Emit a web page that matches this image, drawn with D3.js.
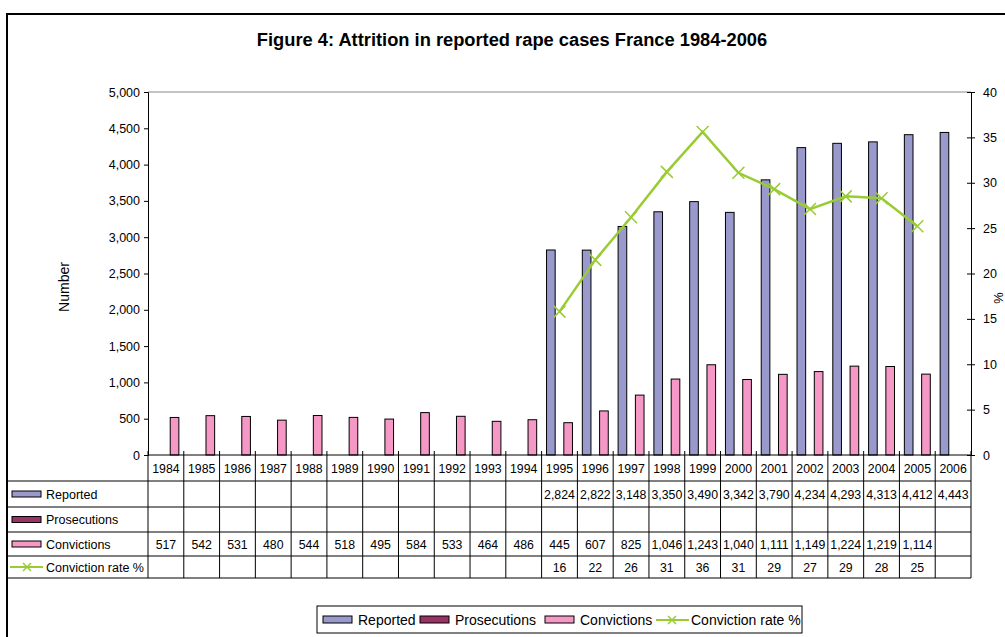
<!DOCTYPE html>
<html>
<head>
<meta charset="utf-8">
<script src="https://cdn.jsdelivr.net/npm/d3@7"></script>
<style>
  body { margin: 0; background: #fff; }
  text { font-family: Arial, "Liberation Sans", sans-serif; fill: #000; }
</style>
</head>
<body>
<div id="chart-area"></div>
<script>
let years = ["1984","1985","1986","1987","1988","1989","1990","1991","1992","1993","1994",
             "1995","1996","1997","1998","1999","2000","2001","2002","2003","2004","2005","2006"]
let reported = [null,null,null,null,null,null,null,null,null,null,null,
                2824,2822,3148,3350,3490,3342,3790,4234,4293,4313,4412,4443]
let prosecutions = [null,null,null,null,null,null,null,null,null,null,null,
                    null,null,null,null,null,null,null,null,null,null,null,null]
let convictions = [517,542,531,480,544,518,495,584,533,464,486,
                   445,607,825,1046,1243,1040,1111,1149,1224,1219,1114,null]
// plotted rate (unrounded) and the rounded figures shown in the table
let rate = [null,null,null,null,null,null,null,null,null,null,null,
            15.8,21.5,26.2,31.2,35.6,31.1,29.3,27.1,28.5,28.3,25.2,null]
let rateLabels = ["","","","","","","","","","","",
                  "16","22","26","31","36","31","29","27","29","28","25",""]
let leftTicks = [0,500,1000,1500,2000,2500,3000,3500,4000,4500,5000]
let rightTicks = [0,5,10,15,20,25,30,35,40]

let seriesNames = ["Reported", "Prosecutions", "Convictions"]
let colors = {Reported: "#9999CC", Prosecutions: "#993366", Convictions: "#F598C6"}
let lineColor = "#99CC33"

let W = 1005, H = 637
let plot = {left: 148, right: 971, top: 92, bottom: 455}
let rowH = [455, 481, 507, 532, 556, 578]

let svg = d3.select("#chart-area").append("svg")
  .attr("width", W).attr("height", H)

// outer frame
svg.append("path")
  .attr("d", "M7,637 V14 H1005")
  .attr("fill", "none").attr("stroke", "#000").attr("stroke-width", 2)

svg.append("text")
  .attr("x", 512).attr("y", 46)
  .attr("text-anchor", "middle")
  .attr("font-size", "18.3px").attr("font-weight", "bold")
  .text("Figure 4: Attrition in reported rape cases France 1984-2006")

let x0 = d3.scaleBand().domain(years).range([plot.left, plot.right])
let x1 = d3.scaleBand().domain(seriesNames).range([0, x0.bandwidth()]).paddingOuter(0.57)
let y = d3.scaleLinear().domain([0, 5000]).range([plot.bottom, plot.top])
let y2 = d3.scaleLinear().domain([0, 40]).range([plot.bottom, plot.top])

// plot area border (top)
svg.append("line")
  .attr("x1", plot.left).attr("x2", plot.right)
  .attr("y1", plot.top).attr("y2", plot.top)
  .attr("stroke", "#888").attr("stroke-width", 1)

// bars
let barData = []
years.forEach((yr, i) => {
  barData.push({year: yr, s: "Reported", v: reported[i]})
  barData.push({year: yr, s: "Prosecutions", v: prosecutions[i]})
  barData.push({year: yr, s: "Convictions", v: convictions[i]})
})
svg.append("g").selectAll("rect")
  .data(barData.filter(d => d.v != null))
  .enter().append("rect")
    .attr("x", d => x0(d.year) + x1(d.s))
    .attr("y", d => y(d.v))
    .attr("width", x1.bandwidth())
    .attr("height", d => plot.bottom - y(d.v))
    .attr("fill", d => colors[d.s])
    .attr("stroke", "#000").attr("stroke-width", 1)

// left axis
let leftAxis = d3.axisLeft(y).tickValues(leftTicks).tickSize(4).tickPadding(4)
  .tickFormat(d3.format(","))
let ga = svg.append("g")
  .attr("transform", "translate(" + plot.left + ",0)")
  .call(leftAxis)
ga.select(".domain").attr("stroke", "#000")
ga.selectAll("text").attr("font-size", "12.5px").attr("font-family", "Arial, 'Liberation Sans', sans-serif")

// right axis
let rightAxis = d3.axisRight(y2).tickValues(rightTicks).tickSize(4).tickPadding(8)
let gb = svg.append("g")
  .attr("transform", "translate(" + plot.right + ",0)")
  .call(rightAxis)
gb.selectAll(".tick line").attr("x1", -4).attr("x2", 4)
gb.selectAll("text").attr("font-size", "12.5px").attr("font-family", "Arial, 'Liberation Sans', sans-serif")

// baseline
svg.append("line")
  .attr("x1", plot.left).attr("x2", plot.right)
  .attr("y1", plot.bottom).attr("y2", plot.bottom)
  .attr("stroke", "#000")

svg.append("text")
  .attr("transform", "translate(69," + 287 + ") rotate(-90)")
  .attr("text-anchor", "middle").attr("font-size", "14px")
  .text("Number")
svg.append("text")
  .attr("transform", "translate(994," + 298 + ") rotate(90)")
  .attr("text-anchor", "middle").attr("font-size", "13px")
  .text("%")

// conviction rate line
let pts = years.map((yr, i) => ({year: yr, v: rate[i]})).filter(d => d.v != null)
let line = d3.line().x(d => x0(d.year) + x0.bandwidth() / 2).y(d => y2(d.v))
svg.append("path").datum(pts)
  .attr("d", line)
  .attr("fill", "none").attr("stroke", lineColor).attr("stroke-width", 2.5)
let cross = (g, cx, cy, r) => {
  g.append("path")
    .attr("d", `M${cx - r},${cy - r}L${cx + r},${cy + r}M${cx - r},${cy + r}L${cx + r},${cy - r}`)
    .attr("stroke", lineColor).attr("stroke-width", 1.5).attr("fill", "none")
}
let mk = svg.append("g")
pts.forEach(d => cross(mk, x0(d.year) + x0.bandwidth() / 2, y2(d.v), 6))

// data table
let tbl = svg.append("g")
tbl.selectAll("line.h").data(rowH.slice(1)).enter().append("line")
  .attr("x1", 7).attr("x2", plot.right)
  .attr("y1", d => d).attr("y2", d => d)
  .attr("stroke", "#000")
let vx = [plot.left].concat(years.map(yr => x0(yr) + x0.bandwidth()))
tbl.selectAll("line.v").data(vx).enter().append("line")
  .attr("x1", d => d).attr("x2", d => d)
  .attr("y1", plot.bottom - 4).attr("y2", rowH[5])
  .attr("stroke", "#000")

let cellText = (row, vals) => {
  tbl.append("g").selectAll("text").data(vals).enter().append("text")
    .attr("x", (d, i) => x0(years[i]) + x0.bandwidth() / 2)
    .attr("y", (rowH[row] + rowH[row + 1]) / 2 + 4.5)
    .attr("text-anchor", "middle").attr("font-size", "12.3px")
    .text(d => d)
}
let fmt = v => v == null ? "" : d3.format(",")(v)
cellText(0, years)
cellText(1, reported.map(fmt))
cellText(2, prosecutions.map(fmt))
cellText(3, convictions.map(fmt))
cellText(4, rateLabels)

// row keys
seriesNames.forEach((s, k) => {
  let cy = (rowH[k + 1] + rowH[k + 2]) / 2
  tbl.append("rect").attr("x", 12).attr("y", cy - 3).attr("width", 29).attr("height", 6)
    .attr("fill", colors[s]).attr("stroke", "#000")
  tbl.append("text").attr("x", 46).attr("y", cy + 4.5).attr("font-size", "12.5px").text(s)
})
let rcy = (rowH[4] + rowH[5]) / 2
tbl.append("line").attr("x1", 10).attr("x2", 43).attr("y1", rcy).attr("y2", rcy)
  .attr("stroke", lineColor).attr("stroke-width", 2)
cross(tbl, 27, rcy, 4)
tbl.append("text").attr("x", 46).attr("y", rcy + 4.5).attr("font-size", "12.5px").text("Conviction rate %")

// legend
let lg = svg.append("g")
lg.append("rect").attr("x", 317).attr("y", 606).attr("width", 485).attr("height", 27)
  .attr("fill", "#fff").attr("stroke", "#000")
let legendItems = [
  {name: "Reported", x: 323, type: "bar"},
  {name: "Prosecutions", x: 420, type: "bar"},
  {name: "Convictions", x: 545, type: "bar"},
  {name: "Conviction rate %", x: 656, type: "line"}
]
legendItems.forEach(d => {
  if (d.type == "bar") {
    lg.append("rect").attr("x", d.x).attr("y", 616).attr("width", 29).attr("height", 7)
      .attr("fill", colors[d.name]).attr("stroke", "#000")
  } else {
    lg.append("line").attr("x1", d.x).attr("x2", d.x + 33).attr("y1", 620).attr("y2", 620)
      .attr("stroke", lineColor).attr("stroke-width", 2)
    cross(lg, d.x + 16, 620, 4)
  }
  lg.append("text").attr("x", d.x + 35).attr("y", 625).attr("font-size", "14px").text(d.name)
})
</script>
</body>
</html>
